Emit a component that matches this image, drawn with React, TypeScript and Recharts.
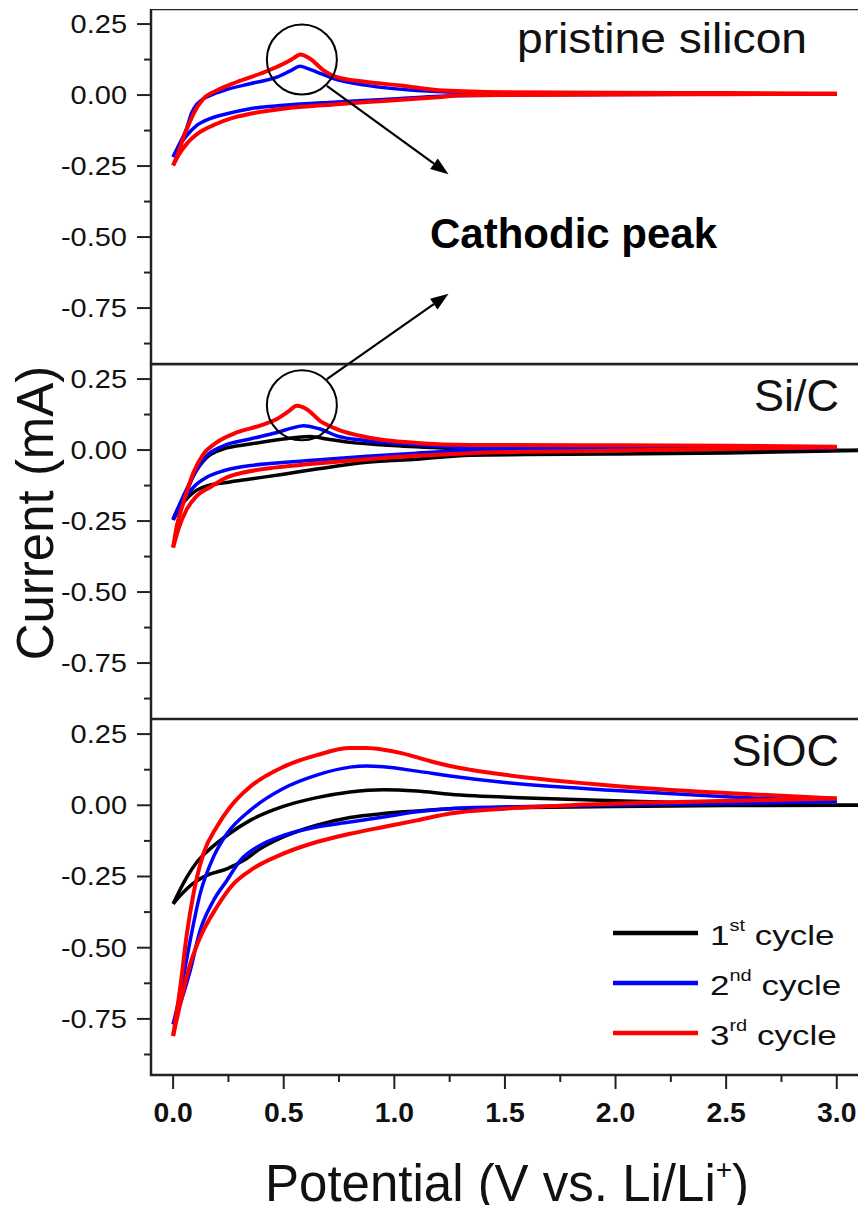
import React from 'react';
import {
  LineChart,
  Line,
  XAxis,
  YAxis,
  ReferenceArea,
  ReferenceDot,
  ReferenceLine,
  Legend,
} from 'recharts';

// ---------- axes ----------
const X_DOMAIN: [number, number] = [-0.1, 3.2];
const Y_DOMAIN: [number, number] = [-0.947, 0.303];
const X_TICKS = [0, 0.25, 0.5, 0.75, 1, 1.25, 1.5, 1.75, 2, 2.25, 2.5, 2.75, 3];
const Y_TICKS = [0.25, 0.125, 0, -0.125, -0.25, -0.375, -0.5, -0.625, -0.75, -0.875];

const PANEL_LABELS = ['pristine silicon', 'Si/C', 'SiOC'];
const CYCLE_NAMES = ['1st cycle', '2nd cycle', '3rd cycle'];
const ANNOTATION = 'Cathodic peak';
const X_TITLE = 'Potential (V vs. Li/Li';
const Y_TITLE = 'Current (mA)';

const BLACK = '#000000';
const BLUE = '#0000ff';
const RED = '#ff0000';
const FONT = '"Liberation Sans", Arial, Helvetica, sans-serif';

type P = { v: number; i: number };
const pts = (a: number[][]): P[] => a.map(([v, i]) => ({ v, i }));

// ---------- pristine silicon ----------
const P1_BLUE_UP = pts([[0, -0.218], [0.03, -0.17], [0.06, -0.12], [0.084, -0.062], [0.11, -0.03], [0.152, -0.007], [0.228, 0.016], [0.348, 0.04], [0.469, 0.063], [0.53, 0.085], [0.574, 0.101], [0.61, 0.093], [0.65, 0.081], [0.725, 0.058], [0.876, 0.034], [1.1, 0.016], [1.4, 0.008], [2.0, 0.006], [2.5, 0.005], [3.0, 0.004]]);
const P1_BLUE_DN = pts([[0, -0.218], [0.024, -0.183], [0.062, -0.142], [0.107, -0.107], [0.167, -0.083], [0.243, -0.066], [0.348, -0.048], [0.499, -0.036], [0.725, -0.025], [0.951, -0.016], [1.18, -0.005], [1.5, 0.0], [2.0, 0.002], [2.5, 0.003], [3.0, 0.004]]);
const P1_RED_UP = pts([[0, -0.248], [0.025, -0.2], [0.047, -0.148], [0.07, -0.105], [0.092, -0.066], [0.137, -0.013], [0.197, 0.016], [0.288, 0.046], [0.393, 0.075], [0.499, 0.11], [0.545, 0.13], [0.574, 0.143], [0.619, 0.128], [0.68, 0.087], [0.74, 0.063], [0.876, 0.046], [1.026, 0.034], [1.222, 0.016], [1.5, 0.01], [2.0, 0.008], [2.5, 0.007], [3.0, 0.005]]);
const P1_RED_DN = pts([[0, -0.248], [0.024, -0.212], [0.062, -0.171], [0.122, -0.13], [0.197, -0.101], [0.258, -0.083], [0.348, -0.066], [0.499, -0.048], [0.725, -0.033], [0.951, -0.021], [1.18, -0.009], [1.31, -0.001], [2.0, 0.002], [2.5, 0.003], [3.0, 0.005]]);

// ---------- Si/C ----------
const P2_BLACK_UP = pts([[0, -0.246], [0.047, -0.173], [0.092, -0.09], [0.152, -0.026], [0.228, 0.004], [0.348, 0.021], [0.499, 0.039], [0.619, 0.048], [0.695, 0.039], [0.8, 0.027], [0.951, 0.018], [1.177, 0.009], [1.343, 0.004], [2.0, 0.0], [2.5, 0.0], [3.11, -0.001]]);
const P2_BLACK_DN = pts([[0, -0.246], [0.02, -0.21], [0.047, -0.184], [0.092, -0.149], [0.152, -0.126], [0.243, -0.114], [0.348, -0.102], [0.499, -0.085], [0.649, -0.067], [0.876, -0.043], [1.1, -0.032], [1.343, -0.018], [1.6, -0.016], [2.0, -0.014], [2.5, -0.01], [3.11, -0.001]]);
const P2_BLUE_UP = pts([[0, -0.243], [0.047, -0.161], [0.092, -0.09], [0.152, -0.02], [0.228, 0.015], [0.348, 0.039], [0.469, 0.062], [0.54, 0.078], [0.589, 0.086], [0.664, 0.074], [0.74, 0.05], [0.876, 0.033], [1.1, 0.019], [1.343, 0.009], [2.0, 0.008], [2.5, 0.008], [3.0, 0.008]]);
const P2_BLUE_DN = pts([[0, -0.243], [0.047, -0.178], [0.092, -0.131], [0.152, -0.096], [0.228, -0.073], [0.318, -0.058], [0.469, -0.046], [0.649, -0.035], [0.876, -0.022], [1.1, -0.011], [1.343, -0.002], [2.0, 0.003], [2.5, 0.005], [3.0, 0.008]]);
const P2_RED_UP = pts([[0, -0.343], [0.017, -0.266], [0.047, -0.184], [0.092, -0.079], [0.137, -0.014], [0.197, 0.027], [0.288, 0.062], [0.393, 0.086], [0.469, 0.109], [0.52, 0.135], [0.559, 0.156], [0.604, 0.144], [0.664, 0.103], [0.74, 0.074], [0.876, 0.045], [1.1, 0.025], [1.343, 0.018], [2.0, 0.017], [2.5, 0.015], [3.0, 0.012]]);
const P2_RED_DN = pts([[0, -0.343], [0.024, -0.278], [0.062, -0.208], [0.107, -0.161], [0.167, -0.131], [0.243, -0.096], [0.318, -0.079], [0.469, -0.061], [0.649, -0.047], [0.876, -0.032], [1.1, -0.02], [1.343, -0.011], [1.6, -0.006], [2.0, -0.002], [2.5, 0.004], [3.0, 0.01]]);

// ---------- SiOC ----------
const P3_BLACK_UP = pts([[0, -0.346], [0.062, -0.252], [0.107, -0.2], [0.167, -0.153], [0.243, -0.106], [0.348, -0.053], [0.498, -0.004], [0.649, 0.027], [0.8, 0.047], [0.951, 0.055], [1.102, 0.05], [1.252, 0.039], [1.6, 0.026], [2.07, 0.014], [2.5, 0.006], [2.8, 0.001], [3.15, 0.0]]);
const P3_BLACK_DN = pts([[0, -0.346], [0.032, -0.317], [0.092, -0.273], [0.152, -0.246], [0.243, -0.223], [0.318, -0.194], [0.393, -0.153], [0.498, -0.111], [0.649, -0.07], [0.8, -0.043], [0.951, -0.029], [1.102, -0.02], [1.252, -0.012], [1.6, -0.008], [2.0, -0.004], [2.5, -0.001], [3.15, 0.0]]);
const P3_BLUE_UP = pts([[0, -0.769], [0.032, -0.663], [0.077, -0.475], [0.122, -0.311], [0.182, -0.182], [0.243, -0.1], [0.348, -0.018], [0.498, 0.059], [0.649, 0.106], [0.8, 0.134], [0.875, 0.138], [0.951, 0.135], [1.102, 0.12], [1.252, 0.103], [1.5, 0.08], [2.0, 0.052], [2.5, 0.03], [3.0, 0.013]]);
const P3_BLUE_DN = pts([[0, -0.769], [0.032, -0.698], [0.077, -0.581], [0.122, -0.44], [0.182, -0.335], [0.243, -0.264], [0.303, -0.194], [0.393, -0.141], [0.498, -0.106], [0.649, -0.076], [0.8, -0.059], [0.951, -0.041], [1.102, -0.023], [1.252, -0.012], [1.6, -0.004], [2.0, 0.001], [2.5, 0.006], [3.0, 0.013]]);
const P3_RED_UP = pts([[0, -0.81], [0.032, -0.64], [0.062, -0.452], [0.092, -0.311], [0.137, -0.17], [0.197, -0.076], [0.258, -0.006], [0.348, 0.065], [0.498, 0.135], [0.649, 0.176], [0.8, 0.201], [0.875, 0.201], [0.951, 0.195], [1.026, 0.184], [1.1, 0.169], [1.177, 0.152], [1.252, 0.138], [1.35, 0.124], [1.5, 0.107], [2.0, 0.068], [2.5, 0.043], [3.0, 0.024]]);
const P3_RED_DN = pts([[0, -0.81], [0.032, -0.698], [0.077, -0.558], [0.122, -0.464], [0.197, -0.358], [0.273, -0.276], [0.348, -0.229], [0.498, -0.17], [0.649, -0.129], [0.8, -0.1], [0.951, -0.076], [1.102, -0.053], [1.252, -0.029], [1.5, -0.012], [1.8, 0.0], [2.2, 0.01], [2.6, 0.017], [3.0, 0.024]]);

// ---------- annotation anchors (data coords) ----------
const PEAK_CIRCLE_P1 = { v: 0.582, i: 0.125 };
const PEAK_CIRCLE_P2 = { v: 0.582, i: 0.158 };
const ARROW_1 = [{ x: 0.695, y: 0.032 }, { x: 1.245, y: -0.279 }];
const ARROW_2 = [{ x: 0.695, y: -1.0 }, { x: 1.245, y: -0.7 }];

const isMajor = (v: number, step: number) => Math.abs(v / step - Math.round(v / step)) < 1e-6;

const YTick = (props: any) => {
  const { x, y, payload } = props;
  const val = payload.value as number;
  const major = isMajor(val, 0.25);
  return (
    <g>
      <line x1={x} x2={x - (major ? 14 : 7)} y1={y} y2={y} stroke="#222" strokeWidth={2} />
      {major && (
        <text
          transform={`translate(${x - 24},${y + 9}) scale(1.16,1)`}
          textAnchor="end"
          fontSize={25}
          fontFamily={FONT}
          fill="#111"
        >
          {val.toFixed(2)}
        </text>
      )}
    </g>
  );
};

const XTick = (props: any) => {
  const { x, y, payload } = props;
  const val = payload.value as number;
  const major = isMajor(val, 0.5);
  return (
    <g>
      <line x1={x} x2={x} y1={y} y2={y + (major ? 14 : 7)} stroke="#222" strokeWidth={2} />
      {major && (
        <text
          transform={`translate(${x},${y + 47}) scale(1.05,1)`}
          textAnchor="middle"
          fontSize={27}
          fontWeight="bold"
          fontFamily={FONT}
          fill="#111"
        >
          {val.toFixed(1)}
        </text>
      )}
    </g>
  );
};

const ArrowShape = (props: any) => {
  const { x1, y1, x2, y2 } = props;
  const ang = Math.atan2(y2 - y1, x2 - x1);
  const L = 18;
  const W = 13;
  const bx = x2 - L * Math.cos(ang);
  const by = y2 - L * Math.sin(ang);
  const px = (-Math.sin(ang) * W) / 2;
  const py = (Math.cos(ang) * W) / 2;
  return (
    <g>
      <line x1={x1} y1={y1} x2={bx} y2={by} stroke="#000" strokeWidth={2.2} />
      <polygon points={`${x2},${y2} ${bx + px},${by + py} ${bx - px},${by - py}`} fill="#000" />
    </g>
  );
};

const renderLegend = (props: any) => {
  const items = (props.payload || []).filter((e: any) => e.type !== 'none');
  return (
    <svg width={250} height={160} style={{ display: 'block', overflow: 'visible' }}>
      {items.map((e: any, k: number) => {
        const cy = 25 + k * 50;
        const m = String(e.value).match(/^(\d+)(st|nd|rd|th)\s+(.*)$/);
        return (
          <g key={k}>
            <line x1={0} x2={85} y1={cy} y2={cy} stroke={e.color} strokeWidth={4.5} />
            <text
              transform={`translate(97,${cy + 12}) scale(1.25,1)`}
              fontSize={28}
              fontFamily={FONT}
              fill="#111"
            >
              {m ? (
                <>
                  <tspan>{m[1]}</tspan>
                  <tspan fontSize={16} dy={-14}>{m[2]}</tspan>
                  <tspan dy={14}>{' ' + m[3]}</tspan>
                </>
              ) : (
                e.value
              )}
            </text>
          </g>
        );
      })}
    </svg>
  );
};

const CHART_W = 881;
const Y_AXIS_W = 151;

const lineProps = {
  dataKey: 'i',
  type: 'monotone' as const,
  dot: false,
  activeDot: false,
  isAnimationActive: false,
};

const Frame = () => (
  <ReferenceArea
    x1={X_DOMAIN[0]}
    x2={X_DOMAIN[1]}
    y1={Y_DOMAIN[0]}
    y2={Y_DOMAIN[1]}
    fill="none"
    fillOpacity={0}
    stroke="#222"
    strokeWidth={2.5}
    ifOverflow="visible"
  />
);

const yAxis = (
  <YAxis
    type="number"
    domain={Y_DOMAIN}
    allowDataOverflow
    ticks={Y_TICKS}
    interval={0}
    width={Y_AXIS_W}
    tickLine={false}
    axisLine={false}
    tickSize={0}
    tickMargin={0}
    tick={(p: any) => <YTick {...p} />}
  />
);

export default function App() {
  return (
    <div
      style={{
        position: 'relative',
        margin: -8,
        width: 866,
        height: 1213,
        overflow: 'hidden',
        background: '#fff',
      }}
    >
      {/* Panel 1: pristine silicon */}
      <div style={{ position: 'absolute', left: 0, top: 9 }}>
        <LineChart width={CHART_W} height={355 + 30} margin={{ top: 0, right: 0, bottom: 30, left: 0 }}>
          <XAxis type="number" dataKey="v" domain={X_DOMAIN} allowDataOverflow hide />
          {yAxis}
          <Frame />
          <Line {...lineProps} data={P1_BLUE_DN} stroke={BLUE} strokeWidth={3.5} legendType="none" />
          <Line {...lineProps} data={P1_BLUE_UP} stroke={BLUE} strokeWidth={3.5} name={CYCLE_NAMES[1]} />
          <Line {...lineProps} data={P1_RED_DN} stroke={RED} strokeWidth={4} legendType="none" />
          <Line {...lineProps} data={P1_RED_UP} stroke={RED} strokeWidth={4} name={CYCLE_NAMES[2]} />
          <ReferenceDot x={PEAK_CIRCLE_P1.v} y={PEAK_CIRCLE_P1.i} r={35} fill="none" stroke="#000" strokeWidth={2} ifOverflow="visible" />
          <ReferenceLine segment={ARROW_1} ifOverflow="visible" stroke="#000" shape={(p: any) => <ArrowShape {...p} />} />
          <ReferenceLine segment={ARROW_2} ifOverflow="visible" stroke="#000" shape={(p: any) => <ArrowShape {...p} />} />
        </LineChart>
      </div>

      {/* Panel 2: Si/C */}
      <div style={{ position: 'absolute', left: 0, top: 364 }}>
        <LineChart width={CHART_W} height={355} margin={{ top: 0, right: 0, bottom: 0, left: 0 }}>
          <XAxis type="number" dataKey="v" domain={X_DOMAIN} allowDataOverflow hide />
          {yAxis}
          <Frame />
          <Line {...lineProps} data={P2_BLACK_DN} stroke={BLACK} strokeWidth={3.5} legendType="none" />
          <Line {...lineProps} data={P2_BLACK_UP} stroke={BLACK} strokeWidth={3.5} name={CYCLE_NAMES[0]} />
          <Line {...lineProps} data={P2_BLUE_DN} stroke={BLUE} strokeWidth={3.5} legendType="none" />
          <Line {...lineProps} data={P2_BLUE_UP} stroke={BLUE} strokeWidth={3.5} name={CYCLE_NAMES[1]} />
          <Line {...lineProps} data={P2_RED_DN} stroke={RED} strokeWidth={4} legendType="none" />
          <Line {...lineProps} data={P2_RED_UP} stroke={RED} strokeWidth={4} name={CYCLE_NAMES[2]} />
          <ReferenceDot x={PEAK_CIRCLE_P2.v} y={PEAK_CIRCLE_P2.i} r={35} fill="none" stroke="#000" strokeWidth={2} ifOverflow="visible" />
        </LineChart>
      </div>

      {/* Panel 3: SiOC */}
      <div style={{ position: 'absolute', left: 0, top: 719 }}>
        <LineChart width={CHART_W} height={356 + 60} margin={{ top: 0, right: 0, bottom: 0, left: 0 }}>
          <XAxis
            type="number"
            dataKey="v"
            domain={X_DOMAIN}
            allowDataOverflow
            ticks={X_TICKS}
            interval={0}
            height={60}
            tickLine={false}
            axisLine={false}
            tickSize={0}
            tickMargin={0}
            tick={(p: any) => <XTick {...p} />}
          />
          {yAxis}
          <Frame />
          <Line {...lineProps} data={P3_BLACK_DN} stroke={BLACK} strokeWidth={3.5} legendType="none" />
          <Line {...lineProps} data={P3_BLACK_UP} stroke={BLACK} strokeWidth={3.5} name={CYCLE_NAMES[0]} />
          <Line {...lineProps} data={P3_BLUE_DN} stroke={BLUE} strokeWidth={3.5} legendType="none" />
          <Line {...lineProps} data={P3_BLUE_UP} stroke={BLUE} strokeWidth={3.5} name={CYCLE_NAMES[1]} />
          <Line {...lineProps} data={P3_RED_DN} stroke={RED} strokeWidth={4} legendType="none" />
          <Line {...lineProps} data={P3_RED_UP} stroke={RED} strokeWidth={4} name={CYCLE_NAMES[2]} />
          <Legend
            layout="vertical"
            verticalAlign="middle"
            align="center"
            wrapperStyle={{ left: 613, top: 189, width: 250, height: 160 }}
            content={renderLegend}
          />
        </LineChart>
      </div>

      {/* Text overlay */}
      <svg
        width={866}
        height={1213}
        style={{ position: 'absolute', left: 0, top: 0, pointerEvents: 'none' }}
      >
        <text transform="translate(807,53) scale(1.1,1)" textAnchor="end" fontSize={42} fontFamily={FONT} fill="#111">
          {PANEL_LABELS[0]}
        </text>
        <text x={839} y={411} textAnchor="end" fontSize={45} fontFamily={FONT} fill="#111">
          {PANEL_LABELS[1]}
        </text>
        <text x={839} y={766} textAnchor="end" fontSize={45} fontFamily={FONT} fill="#111">
          {PANEL_LABELS[2]}
        </text>
        <text x={430} y={248} fontSize={42} fontWeight="bold" fontFamily={FONT} fill="#000">
          {ANNOTATION}
        </text>
        <text transform="translate(53,513) rotate(-90)" textAnchor="middle" fontSize={51} fontFamily={FONT} fill="#111">
          {Y_TITLE}
        </text>
        <text x={265} y={1201} fontSize={51} fontFamily={FONT} fill="#111">
          {X_TITLE}
          <tspan fontSize={28} dy={-22}>+</tspan>
          <tspan dy={22}>)</tspan>
        </text>
      </svg>
    </div>
  );
}
